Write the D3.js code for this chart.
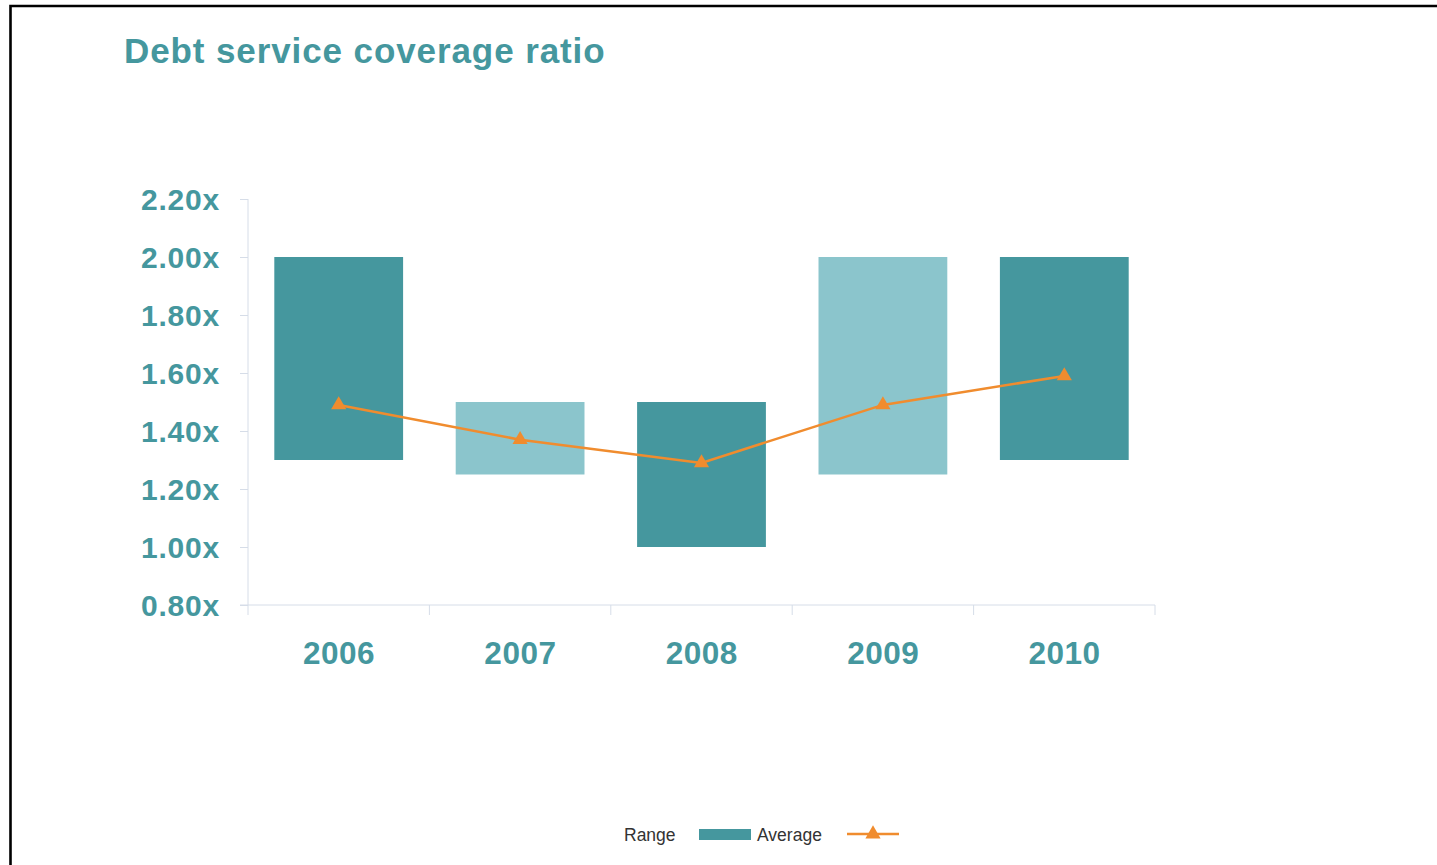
<!DOCTYPE html>
<html><head><meta charset="utf-8">
<script src="https://cdn.jsdelivr.net/npm/d3@7"></script>
<style>html,body{margin:0;padding:0;background:#fff;}svg{display:block;}</style>
</head><body>
<svg id="c" width="1437" height="865"></svg>
<script>
const years = ["2006","2007","2008","2009","2010"];
const rangeLow = [1.30, 1.25, 1.00, 1.25, 1.30];
const rangeHigh = [2.00, 1.50, 1.50, 2.00, 2.00];
const average = [1.49, 1.37, 1.29, 1.49, 1.59];
const yTicks = [0.8, 1.0, 1.2, 1.4, 1.6, 1.8, 2.0, 2.2];
const barColors = ["#45979e", "#8bc5cc", "#45979e", "#8bc5cc", "#45979e"];

const svg = d3.select("#c");
const teal = "#45979e", orange = "#f08c2e", axisCol = "#d6dde8";
const font = "'Liberation Sans',Arial,sans-serif";

// frame
svg.append("path").attr("d","M10.5,866 L10.5,6 L1440,6").attr("fill","none").attr("stroke","#000").attr("stroke-width",2.6);

svg.append("text").attr("x",124).attr("y",63).text("Debt service coverage ratio")
  .attr("font-family",font).attr("font-weight","bold").attr("font-size",35)
  .attr("letter-spacing",0.9).attr("fill",teal);

const x = d3.scaleBand().domain(years).range([248,1155]).paddingInner(0.29).paddingOuter(0.145);
const y = d3.scaleLinear().domain([0.8,2.2]).range([605,199]);

// y axis
const ya = svg.append("g").attr("transform","translate(248,0)")
  .call(d3.axisLeft(y).tickValues(yTicks).tickSize(8).tickPadding(20).tickFormat(d=>d3.format(".2f")(d)+"x"));
ya.select(".domain").attr("stroke",axisCol).attr("d","M0,199V605");
ya.selectAll(".tick line").attr("stroke",axisCol);
ya.selectAll(".tick text").attr("font-family",font).attr("font-weight","bold")
  .attr("font-size",30).attr("letter-spacing",0.8).attr("fill",teal).attr("dy","0.36em");

// x axis
const bounds = years.map(d=>x(d)-x.step()*x.paddingInner()/2).concat([1155]);
bounds[0]=248;
const xa = svg.append("g").attr("transform","translate(0,605)");
xa.append("line").attr("x1",240).attr("x2",1155).attr("y1",0).attr("y2",0).attr("stroke",axisCol);
xa.selectAll("line.t").data(bounds).enter().append("line").attr("class","t")
  .attr("x1",d=>d).attr("x2",d=>d).attr("y1",0).attr("y2",10).attr("stroke",axisCol);
xa.selectAll("text").data(years).enter().append("text")
  .attr("x",d=>x(d)+x.bandwidth()/2+0.3).attr("y",59).attr("text-anchor","middle")
  .attr("font-family",font).attr("font-weight","bold").attr("letter-spacing",0.5)
  .attr("font-size",31.5).attr("fill",teal).text(d=>d);

// bars
svg.append("g").selectAll("rect").data(years).enter().append("rect")
  .attr("x",d=>x(d)).attr("width",x.bandwidth())
  .attr("y",(d,i)=>y(rangeHigh[i])).attr("height",(d,i)=>y(rangeLow[i])-y(rangeHigh[i]))
  .attr("fill",(d,i)=>barColors[i]);

// line
const line = d3.line().x((d,i)=>x(years[i])+x.bandwidth()/2).y(d=>y(d));
svg.append("path").datum(average).attr("d",line).attr("fill","none").attr("stroke",orange).attr("stroke-width",2.5);
const tri = d3.symbol().type(d3.symbolTriangle).size(100);
svg.append("g").selectAll("path").data(average).enter().append("path")
  .attr("d",tri).attr("fill",orange)
  .attr("transform",(d,i)=>`translate(${x(years[i])+x.bandwidth()/2},${y(d)})`);

// legend
const lg = svg.append("g").attr("font-family",font).attr("font-size",17.5).attr("fill","#333");
lg.append("text").attr("x",624).attr("y",841).text("Range");
lg.append("rect").attr("x",699).attr("y",829).attr("width",52).attr("height",11).attr("fill",teal);
lg.append("text").attr("x",757).attr("y",841).text("Average");
lg.append("line").attr("x1",847).attr("x2",899).attr("y1",834).attr("y2",834).attr("stroke",orange).attr("stroke-width",2.5);
lg.append("path").attr("d",tri).attr("fill",orange).attr("transform","translate(873,834)");
</script>
</body></html>
